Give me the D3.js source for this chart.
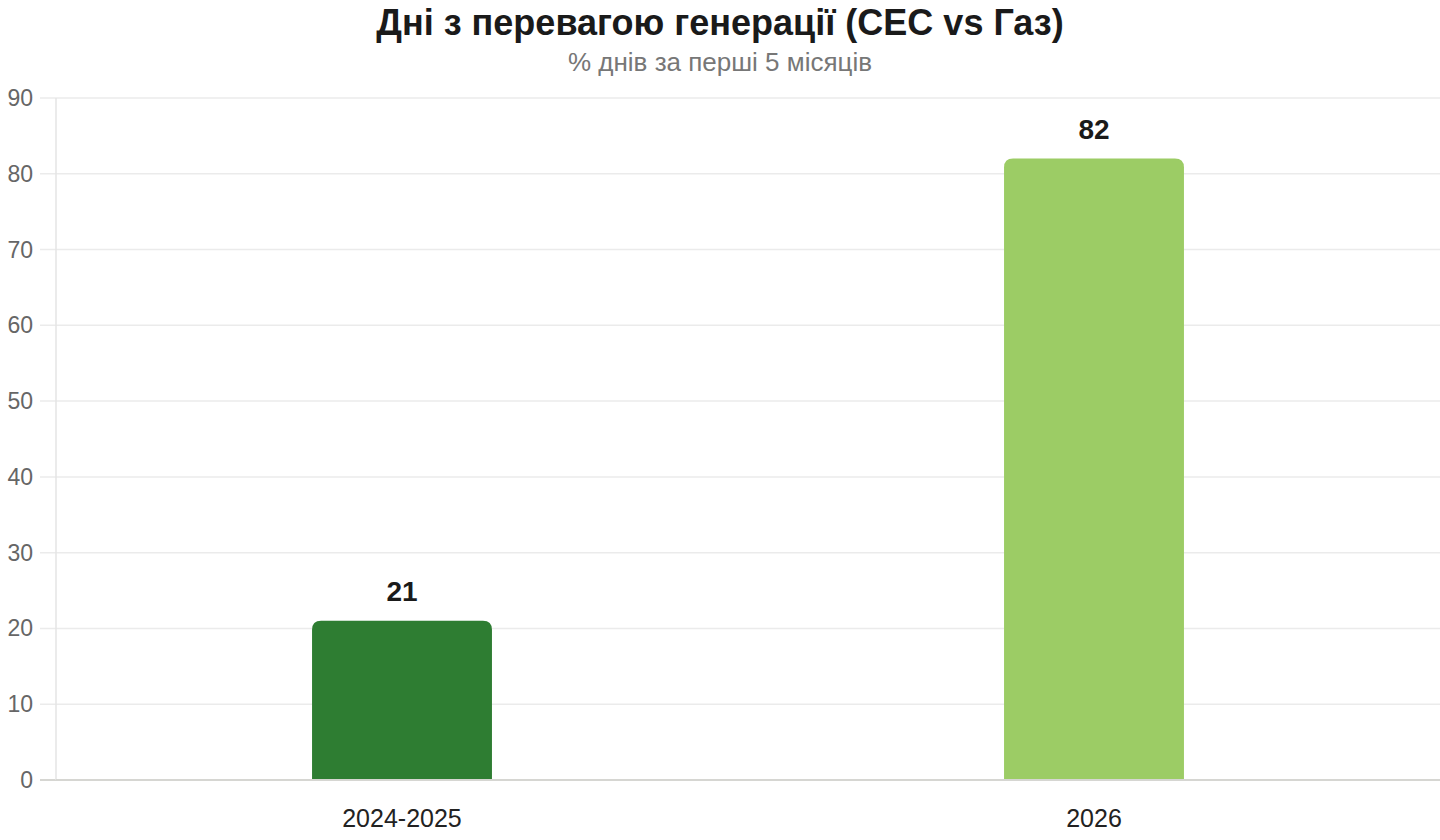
<!DOCTYPE html>
<html>
<head>
<meta charset="utf-8">
<script src="https://cdn.jsdelivr.net/npm/d3@7"></script>
<style>
    body { margin: 0; background: #fff; }
    svg { display: block; font-family: "Liberation Sans", Arial, sans-serif; }
</style>
</head>
<body>
<script>
// дані
var categories = ["2024-2025", "2026"];
var values = [21, 82];
var colors = ["#2e7d32", "#9ccc65"];
var yTicks = [0, 10, 20, 30, 40, 50, 60, 70, 80, 90];

var width = 1440, height = 840;
var margin = {top: 98, right: 0, bottom: 60, left: 56};
var innerW = width - margin.left - margin.right;
var innerH = height - margin.top - margin.bottom;

var svg = d3.select("body").append("svg")
    .attr("width", width)
    .attr("height", height);

svg.append("text")
    .attr("x", 720).attr("y", 35)
    .attr("text-anchor", "middle")
    .attr("font-weight", "bold")
    .attr("font-size", 36)
    .attr("fill", "#1a1a1a")
    .text("Дні з перевагою генерації (СЕС vs Газ)");

svg.append("text")
    .attr("x", 720).attr("y", 71)
    .attr("text-anchor", "middle")
    .attr("font-size", 26)
    .attr("fill", "#777")
    .text("% днів за перші 5 місяців");

var g = svg.append("g")
    .attr("transform", `translate(${margin.left}, ${margin.top})`);

var x = d3.scaleBand()
    .domain(categories)
    .range([0, innerW])
    .padding(0);

var y = d3.scaleLinear()
    .domain([0, 90])
    .range([innerH, 0]);

// сітка
g.selectAll(".grid")
    .data(yTicks)
    .enter().append("line")
    .attr("x1", -16).attr("x2", innerW)
    .attr("y1", d => y(d)).attr("y2", d => y(d))
    .attr("stroke", d => d === 0 ? "#d6d6d2" : "#ebebeb")
    .attr("stroke-width", d => d === 0 ? 2 : 1.5);

g.append("line")
    .attr("x1", 0).attr("x2", 0)
    .attr("y1", 0).attr("y2", innerH)
    .attr("stroke", "#e4e4e4")
    .attr("stroke-width", 1.5);

g.append("line")
    .attr("x1", 0).attr("x2", innerW)
    .attr("y1", innerH).attr("y2", innerH)
    .attr("stroke", "#d6d6d2")
    .attr("stroke-width", 2);

g.selectAll(".ytick")
    .data(yTicks)
    .enter().append("text")
    .attr("x", -23)
    .attr("y", d => y(d))
    .attr("dy", "0.35em")
    .attr("text-anchor", "end")
    .attr("font-size", 23)
    .attr("fill", "#666")
    .text(d => d);

var barW = x.bandwidth() * 0.26;
var r = 9;

function barPath(cx, top, bottom, w) {
    var x0 = cx - w / 2, x1 = cx + w / 2;
    return `M${x0},${bottom} L${x0},${top + r} Q${x0},${top} ${x0 + r},${top}` +
        ` L${x1 - r},${top} Q${x1},${top} ${x1},${top + r} L${x1},${bottom} Z`;
}

g.selectAll(".bar")
    .data(values)
    .enter().append("path")
    .attr("d", (d, i) => barPath(x(categories[i]) + x.bandwidth() / 2, y(d), y(0) - 1, barW))
    .attr("fill", (d, i) => colors[i]);

g.selectAll(".val")
    .data(values)
    .enter().append("text")
    .attr("x", (d, i) => x(categories[i]) + x.bandwidth() / 2)
    .attr("y", d => y(d) - 20)
    .attr("text-anchor", "middle")
    .attr("font-size", 28)
    .attr("font-weight", "bold")
    .attr("fill", "#1a1a1a")
    .text(d => d);

g.selectAll(".xlab")
    .data(categories)
    .enter().append("text")
    .attr("x", d => x(d) + x.bandwidth() / 2)
    .attr("y", innerH + 47)
    .attr("text-anchor", "middle")
    .attr("font-size", 25)
    .attr("fill", "#222")
    .text(d => d);
</script>
</body>
</html>
